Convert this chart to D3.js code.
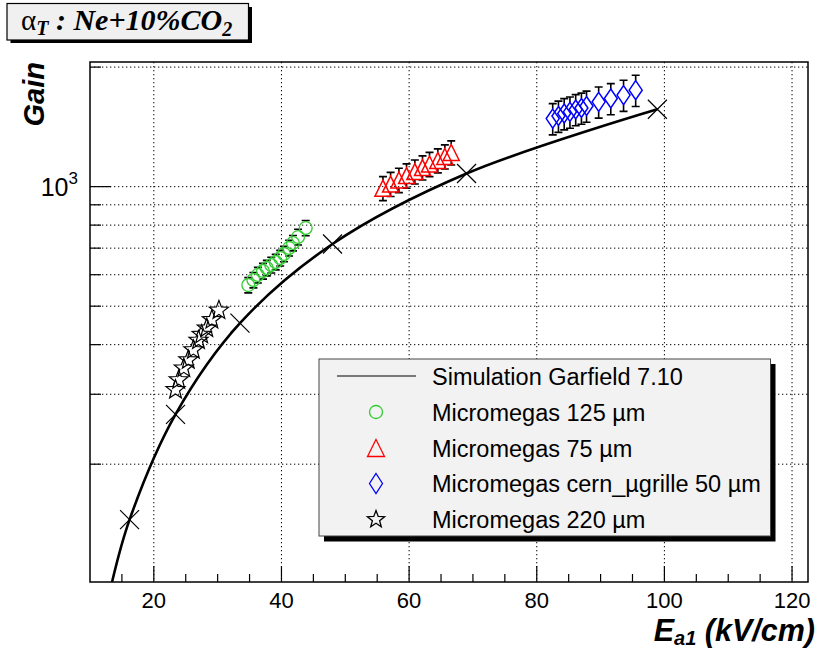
<!DOCTYPE html>
<html><head><meta charset="utf-8">
<script src="https://cdn.jsdelivr.net/npm/d3@7"></script>
<style>body{margin:0;background:#fff}svg{display:block}</style>
</head><body>
<svg id="c" width="819" height="650"></svg>
<script>
// ---------------- DATA ----------------
const simE    = [16.2, 23.4, 33.5, 48.0, 69.0, 98.9];
const simGain = [145, 267, 453, 717, 1079, 1566];
const curveE    = [13.2, 16.2, 23.4, 33.5, 48.0, 69.0, 98.9];
const curveGain = [97, 145, 267, 453, 717, 1079, 1566];

const m125E    = [34.8, 35.6, 36.3, 37.1, 37.7, 38.4, 39.1, 39.8, 40.4, 41.2, 41.8, 42.6, 43.8];
const m125Gain = [565, 582, 599, 613, 624, 635, 646, 661, 677, 701, 721, 747, 787];
const m125Err  = [25, 26, 27, 28, 28, 29, 29, 30, 30, 32, 32, 34, 35];

const m75E    = [55.9, 57.1, 58.4, 59.6, 60.9, 62.1, 63.2, 64.5, 65.6, 66.6];
const m75Gain = [991, 1015, 1039, 1066, 1091, 1117, 1140, 1164, 1191, 1219];
const m75Err  = [69, 71, 73, 75, 76, 78, 80, 81, 83, 85];

const m50E    = [82.5, 83.4, 84.3, 85.2, 86.1, 87.0, 87.8, 89.7, 91.6, 93.6, 95.5];
const m50Gain = [1484, 1506, 1528, 1542, 1564, 1578, 1596, 1635, 1667, 1700, 1750];
const m50Err  = [134, 136, 138, 139, 141, 142, 144, 147, 150, 153, 158];

const m220E    = [23.4, 23.9, 24.7, 25.4, 26.2, 27.0, 27.5, 28.3, 29.1, 30.2];
const m220Gain = [308, 326, 349, 366, 388, 410, 424, 440, 462, 488];

const xTicks = [20, 40, 60, 80, 100, 120];
const xMinor = [15, 25, 30, 35, 45, 50, 55, 65, 70, 75, 85, 90, 95, 105, 110, 115];
const yMajor = [1000];
const yMinor = [200, 300, 400, 500, 600, 700, 800, 900, 2000];

const legendLabels = ["Simulation Garfield 7.10", "Micromegas 125 \u00b5m", "Micromegas 75 \u00b5m",
                      "Micromegas cern_\u00b5grille 50 \u00b5m", "Micromegas 220 \u00b5m"];

// ---------------- LAYOUT ----------------
const L = 90, R = 808, T = 62, B = 582;
const svg = d3.select("#c");
const x = d3.scaleLinear().domain([10, 122.5]).range([L, R]);
const y = d3.scaleLog().domain([101, 2060]).range([B, T]);
const SANS = "'Liberation Sans', Arial, Helvetica, sans-serif";
const SERIF = "'Liberation Serif', 'Times New Roman', serif";

svg.append("defs").append("clipPath").attr("id", "clip")
  .append("rect").attr("x", L).attr("y", T).attr("width", R - L).attr("height", B - T);

// grid
const grid = svg.append("g").attr("stroke", "#000").attr("stroke-width", 1)
  .attr("stroke-dasharray", "1.3,2.7");
grid.selectAll(".gx").data(xTicks).join("line")
  .attr("x1", d => x(d)).attr("x2", d => x(d)).attr("y1", T).attr("y2", B);
grid.selectAll(".gy").data(yMajor.concat(yMinor)).join("line")
  .attr("y1", d => y(d)).attr("y2", d => y(d)).attr("x1", L).attr("x2", R);

// ticks
const ticks = svg.append("g").attr("stroke", "#000").attr("stroke-width", 1.2);
ticks.selectAll(".tx").data(xTicks).join("line")
  .attr("x1", d => x(d)).attr("x2", d => x(d)).attr("y1", B).attr("y2", B - 16);
ticks.selectAll(".txm").data(xMinor).join("line")
  .attr("x1", d => x(d)).attr("x2", d => x(d)).attr("y1", B).attr("y2", B - 8);
ticks.selectAll(".ty").data(yMajor).join("line")
  .attr("y1", d => y(d)).attr("y2", d => y(d)).attr("x1", L).attr("x2", L + 21);
ticks.selectAll(".tym").data(yMinor).join("line")
  .attr("y1", d => y(d)).attr("y2", d => y(d)).attr("x1", L).attr("x2", L + 11);

// tick labels
svg.append("g").selectAll("text").data(xTicks).join("text")
  .attr("x", d => x(d)).attr("y", 608).attr("text-anchor", "middle")
  .attr("font-family", SANS).attr("font-size", 22).text(d => d);
const yl = svg.append("text").attr("x", 78).attr("y", 196).attr("text-anchor", "end")
  .attr("font-family", SANS).attr("font-size", 25);
yMajor.forEach(v => {
  yl.append("tspan").text("10");
  yl.append("tspan").attr("dy", -12).attr("font-size", 17).text(Math.round(Math.log10(v)));
});

// axis titles
svg.append("text").attr("transform", `translate(44,${T}) rotate(-90)`).attr("text-anchor", "end")
  .attr("font-family", SANS).attr("font-weight", "bold").attr("font-style", "italic")
  .attr("font-size", 29).text("Gain");
const xt = svg.append("text").attr("x", 815).attr("y", 641).attr("text-anchor", "end")
  .attr("font-family", SANS).attr("font-weight", "bold").attr("font-style", "italic").attr("font-size", 30.5);
xt.append("tspan").text("E");
xt.append("tspan").attr("dy", 4).attr("font-size", 20).text("a1");
xt.append("tspan").attr("dy", -4).text(" (kV/cm)");

// plot content
const plot = svg.append("g").attr("clip-path", "url(#clip)");
const curvePts = curveE.map((e, i) => [e, curveGain[i]]);
plot.append("path").datum(curvePts)
  .attr("d", d3.line().x(d => x(d[0])).y(d => y(d[1])).curve(d3.curveCatmullRom.alpha(0.5)))
  .attr("fill", "none").attr("stroke", "#000").attr("stroke-width", 2.6);

const cross = (s) => `M${-s},${-s}L${s},${s}M${-s},${s}L${s},${-s}`;
plot.selectAll(".sim").data(simE.map((e, i) => [e, simGain[i]])).join("path")
  .attr("transform", d => `translate(${x(d[0])},${y(d[1])})`)
  .attr("d", cross(9.5)).attr("stroke", "#000").attr("stroke-width", 1.2).attr("fill", "none");

// marker shapes
const circleP = r => `M${-r},0A${r},${r} 0 1,0 ${r},0A${r},${r} 0 1,0 ${-r},0Z`;
const triP = s => `M0,${-s}L${s},${s}L${-s},${s}Z`;
const diaP = (w, h) => `M0,${-h}L${w},0L0,${h}L${-w},0Z`;
const starP = (ro, ri) => {
  let p = "";
  for (let k = 0; k < 10; k++) {
    const a = -Math.PI / 2 + k * Math.PI / 5, r = k % 2 ? ri : ro;
    p += (k ? "L" : "M") + (r * Math.cos(a)).toFixed(2) + "," + (r * Math.sin(a)).toFixed(2);
  }
  return p + "Z";
};

function series(E, G, Er, path, color, halfH, sw) {
  const pts = E.map((e, i) => ({ e, g: G[i], er: Er ? Er[i] : 0 }));
  if (Er) {
    const eb = plot.append("g").attr("stroke", "#000").attr("stroke-width", 1.6).attr("fill", "none");
    pts.forEach(p => {
      const cx = x(p.e), cy = y(p.g), yt = y(p.g + p.er), yb = y(p.g - p.er);
      let d = "";
      if (cy - halfH > yt) d += `M${cx},${cy - halfH}L${cx},${yt}`;
      if (cy + halfH < yb) d += `M${cx},${cy + halfH}L${cx},${yb}`;
      d += `M${cx - 4},${yt}L${cx + 4},${yt}M${cx - 4},${yb}L${cx + 4},${yb}`;
      eb.append("path").attr("d", d);
    });
  }
  plot.append("g").selectAll("path").data(pts).join("path")
    .attr("transform", p => `translate(${x(p.e)},${y(p.g)})`)
    .attr("d", path).attr("fill", "none").attr("stroke", color).attr("stroke-width", sw);
}
series(m220E, m220Gain, null, starP(10, 4.2), "#000", 8, 1.2);
series(m125E, m125Gain, m125Err, circleP(6.4), "#33cc33", 6.4, 1.3);
series(m75E, m75Gain, m75Err, triP(8), "#ff0000", 8, 1.5);
series(m50E, m50Gain, m50Err, diaP(6.5, 9.5), "#0000ff", 9.5, 1.5);

// frame
svg.append("rect").attr("x", L).attr("y", T).attr("width", R - L).attr("height", B - T)
  .attr("fill", "none").attr("stroke", "#000").attr("stroke-width", 1.5);

// legend
const lg = svg.append("g");
lg.append("rect").attr("x", 324).attr("y", 364).attr("width", 451.5).attr("height", 177.5).attr("fill", "#000");
lg.append("rect").attr("x", 319).attr("y", 359).attr("width", 451.5).attr("height", 177).attr("fill", "#f2f2f2")
  .attr("stroke", "#444").attr("stroke-width", 1);
const rowY = [376, 412, 448, 483.5, 519.5];
lg.append("line").attr("x1", 337).attr("x2", 416).attr("y1", rowY[0]).attr("y2", rowY[0])
  .attr("stroke", "#000").attr("stroke-width", 1.2);
const lgMarks = [[circleP(6.5), "#33cc33"], [triP(8.5), "#ff0000"], [diaP(6.5, 10), "#0000ff"], [starP(9, 3.8), "#000"]];
lgMarks.forEach((m, i) => {
  lg.append("path").attr("transform", `translate(376,${rowY[i + 1]})`).attr("d", m[0])
    .attr("fill", "none").attr("stroke", m[1]).attr("stroke-width", 1.3);
});
lg.selectAll("text").data(legendLabels).join("text")
  .attr("x", 432).attr("y", (d, i) => rowY[i] + 8.5)
  .attr("font-family", SANS).attr("font-size", 23.5).text(d => d);

// title box
const tb = svg.append("g");
tb.append("rect").attr("x", 10.5).attr("y", 7).attr("width", 241.5).attr("height", 36).attr("fill", "#000");
tb.append("rect").attr("x", 7).attr("y", 3.5).attr("width", 241.5).attr("height", 36.5).attr("fill", "#f0f0f0")
  .attr("stroke", "#000").attr("stroke-width", 1.2);
const tt = tb.append("text").attr("x", 21).attr("y", 30).attr("font-family", SERIF).attr("font-size", 30);
tt.append("tspan").attr("font-size", 29).text("\u03b1");
tt.append("tspan").attr("dy", 5).attr("font-size", 20).attr("font-weight", "bold").attr("font-style", "italic").text("T");
tt.append("tspan").attr("dy", -5).attr("font-weight", "bold").attr("font-style", "italic").text(" : Ne+10%CO");
tt.append("tspan").attr("dy", 6).attr("font-size", 20).attr("font-weight", "bold").attr("font-style", "italic").text("2");
</script>
</body></html>
